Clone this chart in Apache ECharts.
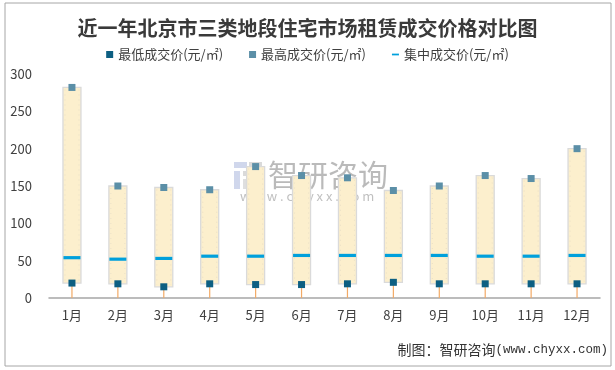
<!DOCTYPE html>
<html>
<head>
<meta charset="utf-8">
<script src="https://cdn.jsdelivr.net/npm/echarts@6/dist/echarts.min.js"></script>
<style>
html,body{margin:0;padding:0;background:#fff;}
#main{width:615px;height:370px;}
</style>
</head>
<body>
<div id="main"></div>
<script>
var categories = ['1月','2月','3月','4月','5月','6月','7月','8月','9月','10月','11月','12月'];
var minV = [20, 19, 15, 19, 18, 18, 19, 21, 19, 19, 19, 19];
var midV = [54, 52, 53, 56, 56, 57, 57, 57, 57, 56, 56, 57];
var maxV = [282, 150, 148, 145, 176, 164, 161, 144, 150, 164, 160, 200];
var yTicks = [0, 50, 100, 150, 200, 250, 300];

var FONT = '"Noto Sans CJK SC", sans-serif';
var rangeData = categories.map(function (c, i) { return [i, minV[i], maxV[i]]; });

var chart = echarts.init(document.getElementById('main'), null, {renderer: 'canvas'});
chart.setOption({
  animation: false,
  backgroundColor: '#fff',
  title: {
    text: '近一年北京市三类地段住宅市场租赁成交价格对比图',
    left: 'center', top: 13,
    textStyle: {fontFamily: FONT, fontSize: 20, fontWeight: 'bold', color: '#3a3a3a'}
  },
  legend: {
    top: 43, left: 'center',
    itemWidth: 7, itemHeight: 7, itemGap: 26,
    textStyle: {fontFamily: FONT, fontSize: 13, color: '#404040'},
    data: [
      {name: '最低成交价(元/㎡)', icon: 'rect'},
      {name: '最高成交价(元/㎡)', icon: 'rect'},
      {name: '集中成交价(元/㎡)', icon: 'path://M0,0 H12 V3 H0 Z'}
    ]
  },
  grid: {left: 49, right: 15, top: 74, bottom: 72},
  xAxis: {
    type: 'category', data: categories,
    axisLine: {lineStyle: {color: '#a6a6a6', width: 1.5}},
    axisTick: {show: false},
    axisLabel: {fontFamily: FONT, fontSize: 13, color: '#404040', margin: 11}
  },
  yAxis: {
    type: 'value', min: yTicks[0], max: yTicks[yTicks.length - 1], interval: 50,
    axisLine: {show: false}, axisTick: {show: false},
    splitLine: {show: false},
    axisLabel: {fontFamily: FONT, fontSize: 13, color: '#404040', margin: 17}
  },
  graphic: [
    {type: 'rect', shape: {x: 5, y: 3, width: 606, height: 363}, style: {fill: 'none', stroke: '#a6a6a6', lineWidth: 1}, silent: true, z: -1},
    {type: 'group', left: 234, top: 162, silent: true, z: 0, children: [
      {type: 'rect', shape: {x: 0, y: 0, width: 13, height: 6}, style: {fill: 'rgba(120,140,200,0.35)'}},
      {type: 'rect', shape: {x: 15, y: 0, width: 13, height: 6}, style: {fill: 'rgba(150,150,150,0.35)'}},
      {type: 'rect', shape: {x: 0, y: 9, width: 6, height: 18}, style: {fill: 'rgba(120,140,200,0.35)'}},
      {type: 'rect', shape: {x: 9, y: 9, width: 19, height: 5}, style: {fill: 'rgba(150,150,150,0.35)'}},
      {type: 'rect', shape: {x: 9, y: 17, width: 19, height: 10}, style: {fill: 'rgba(150,150,150,0.3)'}}
    ]},
    {type: 'text', left: 268, top: 160, silent: true, z: 0,
      style: {text: '智研咨询', fontFamily: FONT, fontSize: 30, fill: 'rgba(130,130,130,0.55)'}},
    {type: 'text', left: 240, top: 190, silent: true, z: 0,
      style: {text: 'w w w . c h y x x . c o m', fontFamily: FONT, fontSize: 13, fill: 'rgba(130,130,130,0.5)'}},
    {type: 'text', right: 7, top: 343, silent: true,
      style: {
        text: '{a|制图：智研咨询}{b|(www.chyxx.com)}',
        rich: {
          a: {fontFamily: FONT, fontSize: 14, fill: '#333'},
          b: {fontFamily: '"Liberation Mono", monospace', fontSize: 12.5, fill: '#333'}
        }
      }}
  ],
  series: [
    {
      name: 'drop', type: 'custom', z: 1, silent: true,
      data: rangeData,
      renderItem: function (params, api) {
        var p0 = api.coord([api.value(0), 0]);
        var p1 = api.coord([api.value(0), api.value(1)]);
        return {type: 'line', shape: {x1: p0[0], y1: p0[1], x2: p1[0], y2: p1[1]},
          style: {stroke: '#f2aa66', lineWidth: 1.2}};
      }
    },
    {
      name: 'range', type: 'custom', z: 2, silent: true,
      data: rangeData,
      renderItem: function (params, api) {
        var top = api.coord([api.value(0), api.value(2)]);
        var bot = api.coord([api.value(0), api.value(1)]);
        var w = 18;
        var x = top[0] - w / 2;
        return {type: 'group', children: [
          {type: 'rect', shape: {x: x, y: top[1], width: w, height: bot[1] - top[1]},
            style: {fill: '#fcefcd', stroke: '#dadada', lineWidth: 1.3}},
          {type: 'line', shape: {x1: x + 2, y1: top[1] + 2, x2: x + 2, y2: bot[1] - 2},
            style: {stroke: '#e6dcc4', lineWidth: 0.8, lineDash: [1, 4]}},
          {type: 'line', shape: {x1: x + w - 2, y1: top[1] + 2, x2: x + w - 2, y2: bot[1] - 2},
            style: {stroke: '#e6dcc4', lineWidth: 0.8, lineDash: [1, 4]}}
        ]};
      }
    },
    {
      name: '集中成交价(元/㎡)', type: 'scatter', z: 3,
      symbol: 'rect', symbolSize: [17, 3.2],
      itemStyle: {color: '#00a0dc', opacity: 1},
      data: midV
    },
    {
      name: '最低成交价(元/㎡)', type: 'scatter', z: 4,
      symbol: 'rect', symbolSize: 7,
      itemStyle: {color: '#0d5f82', opacity: 1},
      data: minV
    },
    {
      name: '最高成交价(元/㎡)', type: 'scatter', z: 4,
      symbol: 'rect', symbolSize: 7,
      itemStyle: {color: '#5b8fa7', opacity: 1},
      data: maxV
    }
  ]
});
</script>
</body>
</html>
